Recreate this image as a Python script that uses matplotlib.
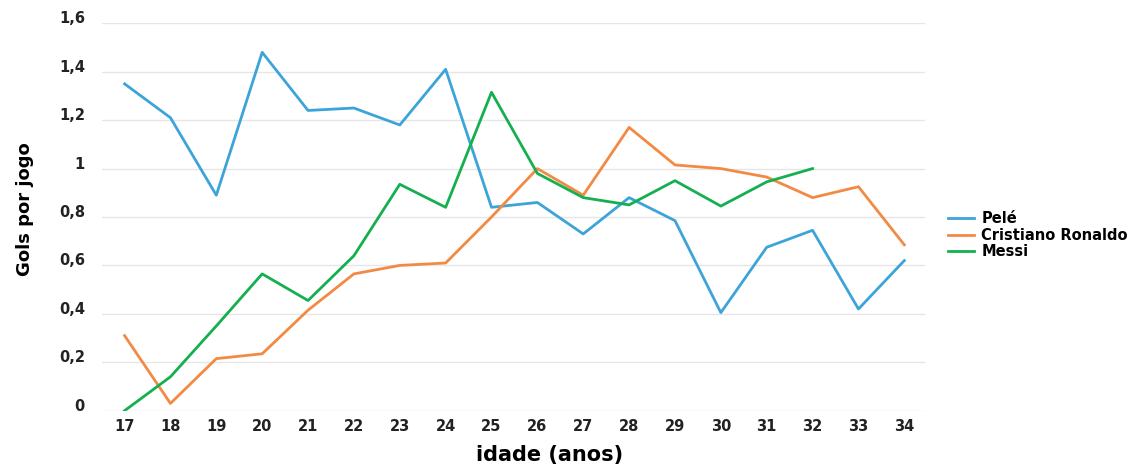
import numpy as np
import matplotlib.pyplot as plt

ages = list(range(17, 35))

pele = [1.35, 1.21, 0.89, 1.48, 1.24, 1.25, 1.18, 1.41, 0.84, 0.86,
        0.73, 0.88, 0.785, 0.405, 0.675, 0.745, 0.42, 0.62]
cr7 = [0.31, 0.03, 0.215, 0.235, 0.415, 0.565, 0.60, 0.61, 0.80, 1.0,
       0.89, 1.17, 1.015, 1.0, 0.965, 0.88, 0.925, 0.685]
messi = [0.0, 0.14, 0.35, 0.565, 0.455, 0.64, 0.935, 0.84, 1.315, 0.98,
         0.88, 0.85, 0.95, 0.845, 0.945, 1.0]

names = ["Pelé", "Cristiano Ronaldo", "Messi"]
colors = ["#3ca4d8", "#f28a43", "#14b04f"]

yticks = [0, 0.2, 0.4, 0.6, 0.8, 1.0, 1.2, 1.4, 1.6]
ytick_labels = ["0", "0,2", "0,4", "0,6", "0,8", "1", "1,2", "1,4", "1,6"]

plt.rcParams['font.family'] = ['DejaVu Sans']

fig = plt.figure(figsize=(11.37, 4.66), dpi=100)
ax = fig.add_axes([0.0894, 0.1187, 0.7241, 0.8313])

series = [pele, cr7, messi]
for name, vals, c in zip(names, series, colors):
    ax.plot(ages[:len(vals)], vals, color=c, lw=2.0, label=name)

ax.set_xlim(16.5, 34.45)
ax.set_ylim(0, 1.6)
ax.set_xticks(ages)
ax.set_xticklabels([str(a) for a in ages], fontsize=10.5, fontweight='bold', color='#222222')
ax.set_yticks(yticks)
ax.set_yticklabels(ytick_labels, fontsize=10.5, fontweight='bold', color='#222222')
ax.tick_params(axis='x', length=0, pad=6)
ax.tick_params(axis='y', length=0, pad=12)
for lbl in ax.get_yticklabels():
    lbl.set_verticalalignment('baseline')
ax.grid(axis='y', color='#e6e6e6', lw=1)
ax.set_axisbelow(True)
for s in ax.spines.values():
    s.set_visible(False)

ax.set_xlabel("idade (anos)", fontsize=15, fontweight='bold', va='center')
ax.xaxis.set_label_coords(0.5445, -0.114)
ax.set_ylabel("Gols por jogo", fontsize=13, fontweight='bold', va='center')
ax.yaxis.set_label_coords(-0.093, 0.52)

fig.legend(loc='center left', bbox_to_anchor=(0.822, 0.495), frameon=False,
           prop={'weight': 'bold', 'size': 10.5}, handlelength=1.8,
           labelspacing=0.1, handletextpad=0.5)

fig.savefig("out.png", dpi=100)
